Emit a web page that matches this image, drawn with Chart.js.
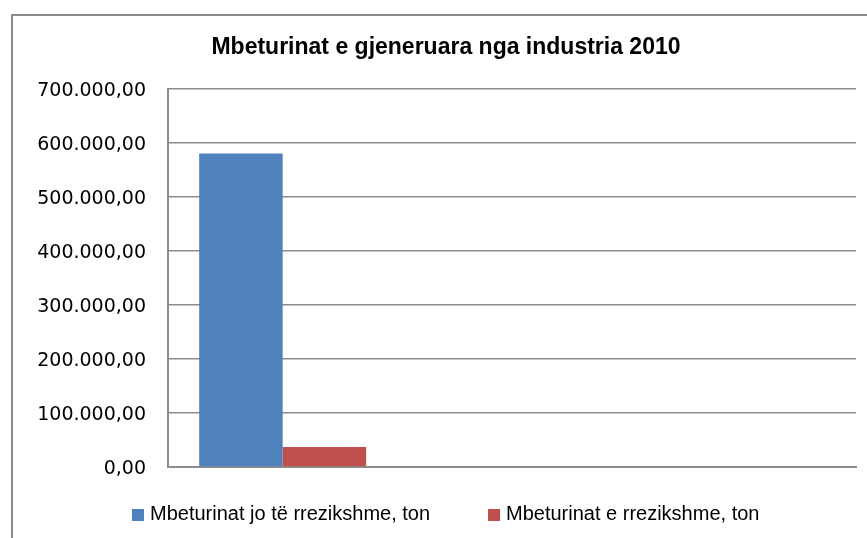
<!DOCTYPE html>
<html lang="sq">
<head>
  <meta charset="UTF-8">
  <title>Mbeturinat e gjeneruara nga industria 2010</title>
  <script src="https://cdn.jsdelivr.net/npm/chart.js"></script>
  <style>
    html, body { margin: 0; padding: 0; background: #fff; overflow: hidden; }
    #wrap { position: relative; width: 867px; height: 538px; }
    #frame { position: absolute; left: 11px; top: 14px; width: 1000px; height: 1000px;
             border-top: 2px solid #8a8a8a; border-left: 2px solid #8a8a8a; }
    #chart { position: absolute; left: 0; top: 0; }
    #legend { position: absolute; left: 0; top: 500px; width: 867px; height: 26px;
              font: 20px "Liberation Sans", Arial, sans-serif; color: #000; }
    #legend .item { position: absolute; top: 0; line-height: 26px; white-space: nowrap; }
    #legend .box { display: inline-block; width: 12px; height: 12px; margin-right: 6px; vertical-align: -1px; }
  </style>
</head>
<body>
<div id="wrap">
  <div id="frame"></div>
  <canvas id="chart" width="867" height="538"></canvas>
  <div id="legend"></div>
</div>

<script>
  // kategorite (vetem e para ka vlera)
  const categories = ['2010', '', ''];
  const seriesNames = ['Mbeturinat jo të rrezikshme, ton', 'Mbeturinat e rrezikshme, ton'];
  const nonHazardous = [580000, null, null];
  const hazardous = [37000, null, null];
  const seriesColors = ['#4F81BD', '#C0504D'];

  // boshti y
  const yMin = 0;
  const yMax = 700000;
  const yStep = 100000;

  // 700000 -> "700.000,00"
  function formatNumber(v) {
    const whole = Math.round(v).toString().replace(/\B(?=(\d{3})+(?!\d))/g, '.');
    return whole + ',00';
  }

  const gridColor = '#8c8c8c';

  const ctx = document.getElementById('chart').getContext('2d');
  const chart = new Chart(ctx, {
    type: 'bar',
    data: {
      labels: categories,
      datasets: [
        { label: seriesNames[0], data: nonHazardous, backgroundColor: seriesColors[0] },
        { label: seriesNames[1], data: hazardous, backgroundColor: seriesColors[1] }
      ]
    },
    options: {
      responsive: false,
      animation: false,
      layout: { padding: { left: 36, right: 11, top: 0, bottom: 71 } },
      datasets: {
        bar: { barPercentage: 1, categoryPercentage: 0.728 }
      },
      plugins: {
        legend: { display: false },
        tooltip: { enabled: false },
        title: {
          display: true,
          text: 'Mbeturinat e gjeneruara nga industria 2010',
          color: '#000',
          font: { family: '"Liberation Sans", Arial, sans-serif', size: 23, weight: 'bold' },
          padding: { top: 34, bottom: 27 }
        }
      },
      scales: {
        x: {
          ticks: { display: false },
          grid: { display: false },
          border: { display: true, color: gridColor, width: 2 },
          afterFit(scale) { scale.height = 0; }
        },
        y: {
          min: yMin,
          max: yMax,
          ticks: {
            stepSize: yStep,
            padding: 22,
            labelOffset: 2,
            color: '#000',
            font: { family: '"DejaVu Sans", sans-serif', size: 19 },
            callback: (v) => formatNumber(v)
          },
          grid: { color: gridColor, lineWidth: 1.5, drawTicks: false },
          border: { display: true, color: gridColor, width: 2 },
          afterFit(scale) { scale.width = 132; }
        }
      }
    }
  });

  // legjenda si tekst html, ngjyrat merren nga grafiku
  const legendLefts = [132, 488];
  const legendEl = document.getElementById('legend');
  chart.data.datasets.forEach((ds, i) => {
    const item = document.createElement('div');
    item.className = 'item';
    item.style.left = legendLefts[i] + 'px';
    const box = document.createElement('span');
    box.className = 'box';
    box.style.background = ds.backgroundColor;
    item.appendChild(box);
    item.appendChild(document.createTextNode(ds.label));
    legendEl.appendChild(item);
  });
</script>
</body>
</html>
